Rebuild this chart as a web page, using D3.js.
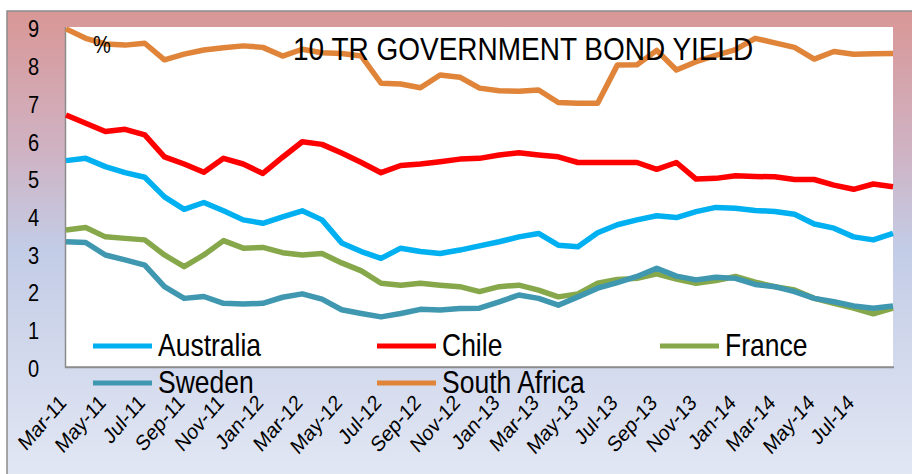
<!DOCTYPE html>
<html>
<head>
<meta charset="utf-8">
<script src="https://cdn.jsdelivr.net/npm/d3@7"></script>
<style>
  html, body { margin: 0; padding: 0; background: #fff; }
  text { font-family: "Liberation Sans", Arial, sans-serif; fill: #000; }
</style>
</head>
<body>
<script>
// monthly categories, Mar-11 .. Sep-14
var months = ["Mar-11","Apr-11","May-11","Jun-11","Jul-11","Aug-11","Sep-11","Oct-11","Nov-11","Dec-11",
  "Jan-12","Feb-12","Mar-12","Apr-12","May-12","Jun-12","Jul-12","Aug-12","Sep-12","Oct-12","Nov-12","Dec-12",
  "Jan-13","Feb-13","Mar-13","Apr-13","May-13","Jun-13","Jul-13","Aug-13","Sep-13","Oct-13","Nov-13","Dec-13",
  "Jan-14","Feb-14","Mar-14","Apr-14","May-14","Jun-14","Jul-14","Aug-14","Sep-14"];

var tickLabels = ["Mar-11","May-11","Jul-11","Sep-11","Nov-11","Jan-12","Mar-12","May-12","Jul-12","Sep-12",
  "Nov-12","Jan-13","Mar-13","May-13","Jul-13","Sep-13","Nov-13","Jan-14","Mar-14","May-14","Jul-14"];

var yTicks = [0,1,2,3,4,5,6,7,8,9];

var australia = [5.46,5.52,5.30,5.14,5.02,4.50,4.17,4.35,4.13,3.89,3.80,3.97,4.13,3.89,3.28,3.05,2.87,3.14,3.05,3.00,
  3.09,3.20,3.31,3.44,3.53,3.22,3.18,3.55,3.76,3.89,4.00,3.95,4.11,4.22,4.20,4.14,4.11,4.04,3.78,3.67,3.44,3.36,3.53];
var chile = [6.67,6.45,6.23,6.29,6.14,5.56,5.37,5.15,5.52,5.37,5.12,5.55,5.96,5.89,5.66,5.41,5.14,5.33,5.37,5.43,
  5.50,5.52,5.61,5.67,5.61,5.56,5.41,5.41,5.41,5.41,5.23,5.41,4.97,4.99,5.06,5.04,5.03,4.96,4.96,4.81,4.70,4.84,4.77];
var france = [3.62,3.69,3.44,3.40,3.36,2.96,2.65,2.96,3.34,3.14,3.16,3.02,2.96,3.00,2.75,2.54,2.21,2.16,2.21,2.16,
  2.12,1.99,2.12,2.16,2.03,1.85,1.93,2.21,2.31,2.34,2.46,2.32,2.21,2.28,2.39,2.24,2.12,2.03,1.81,1.68,1.55,1.40,1.55];
var sweden = [3.31,3.29,2.96,2.83,2.69,2.12,1.81,1.86,1.68,1.66,1.68,1.84,1.93,1.79,1.51,1.41,1.32,1.41,1.52,1.50,
  1.54,1.55,1.72,1.90,1.81,1.63,1.85,2.08,2.23,2.39,2.61,2.40,2.30,2.37,2.34,2.18,2.12,1.99,1.81,1.72,1.61,1.55,1.61];
var southAfrica = [8.95,8.70,8.55,8.52,8.57,8.13,8.28,8.39,8.45,8.50,8.46,8.23,8.41,8.32,8.30,8.23,7.51,7.49,7.39,7.73,
  7.67,7.38,7.31,7.30,7.33,7.00,6.98,6.98,7.99,8.00,8.38,7.86,8.08,8.25,8.40,8.70,8.58,8.46,8.15,8.35,8.28,8.29,8.30];

var seriesNames = ["Australia","Chile","France","Sweden","South Africa"];
var seriesValues = [australia, chile, france, sweden, southAfrica];
var seriesColors = ["#00b0f0","#ff0000","#86a84a","#3f97b0","#df8439"];

var W = 912, H = 474;
var plot = {left: 66, top: 27, right: 893, bottom: 366.7};
var stretch = 1.15; // the original is squashed a bit, text looks tall

var svg = d3.select("body").append("svg")
  .attr("width", W)
  .attr("height", H);

var defs = svg.append("defs");
var grad = defs.append("linearGradient")
  .attr("id", "bg").attr("x1", 0).attr("y1", 0).attr("x2", 0).attr("y2", 1);
grad.append("stop").attr("offset", "0").attr("stop-color", "#d99796");
grad.append("stop").attr("offset", "0.3").attr("stop-color", "#cfb3c4");
grad.append("stop").attr("offset", "0.5").attr("stop-color", "#c3cce6");
grad.append("stop").attr("offset", "1").attr("stop-color", "#e3e8f4");

// chart area
svg.append("rect")
  .attr("x", 7).attr("y", 11)
  .attr("width", W).attr("height", H)
  .attr("fill", "url(#bg)")
  .attr("stroke", "#8c8c8c").attr("stroke-width", 1.5);

// plot area
svg.append("rect")
  .attr("x", plot.left).attr("y", plot.top)
  .attr("width", plot.right - plot.left).attr("height", plot.bottom - plot.top)
  .attr("fill", "#fff");

var x = d3.scalePoint().domain(months).range([plot.left, plot.right]);
var y = d3.scaleLinear().domain([0, 9]).range([plot.bottom, plot.top]);

// axis lines
svg.append("line")
  .attr("x1", plot.left - 0.5).attr("x2", plot.left - 0.5)
  .attr("y1", plot.top).attr("y2", plot.bottom + 1)
  .attr("stroke", "#8c8c8c").attr("stroke-width", 1.5);
svg.append("line")
  .attr("x1", plot.left - 1).attr("x2", plot.right + 1)
  .attr("y1", plot.bottom + 0.5).attr("y2", plot.bottom + 0.5)
  .attr("stroke", "#8c8c8c").attr("stroke-width", 2);

// y tick labels
svg.append("g").selectAll("g")
  .data(yTicks)
  .join("g")
  .attr("transform", function(d) { return "translate(33.5," + (y(d) + 1.5) + ") scale(1,1.22)"; })
  .append("text")
  .attr("text-anchor", "middle")
  .attr("dy", "0.36em")
  .attr("font-size", 20)
  .text(function(d) { return d; });

// x tick labels, rotated
svg.append("g").selectAll("g")
  .data(tickLabels)
  .join("g")
  .attr("transform", function(d) { return "translate(" + (x(d) + 1.5) + ",404) scale(1," + stretch + ") rotate(-45)"; })
  .append("text")
  .attr("text-anchor", "end")
  .attr("font-size", 19)
  .text(function(d) { return d; });

// lines
var line = d3.line()
  .x(function(d, i) { return x(months[i]); })
  .y(function(d) { return y(d); })
  .curve(d3.curveLinear);

svg.append("g").selectAll("path")
  .data(seriesValues)
  .join("path")
  .attr("d", line)
  .attr("fill", "none")
  .attr("stroke", function(d, i) { return seriesColors[i]; })
  .attr("stroke-width", 5.5)
  .attr("stroke-linejoin", "round");

// title and unit
svg.append("g")
  .attr("transform", "translate(293,60) scale(1," + stretch + ")")
  .append("text")
  .attr("font-size", 28)
  .text("10 TR GOVERNMENT BOND YIELD");

svg.append("g")
  .attr("transform", "translate(93,53) scale(1,1.2)")
  .append("text")
  .attr("font-size", 20)
  .text("%");

// legend, 3 per row
var legendX = [93, 377, 660];
var legendY = [346, 383];
var leg = svg.append("g").selectAll("g")
  .data(seriesNames)
  .join("g")
  .attr("transform", function(d, i) { return "translate(" + legendX[i % 3] + "," + legendY[Math.floor(i / 3)] + ")"; });

leg.append("line")
  .attr("x1", 0).attr("x2", 59)
  .attr("y1", 0).attr("y2", 0)
  .attr("stroke", function(d, i) { return seriesColors[i]; })
  .attr("stroke-width", 5);

leg.append("g")
  .attr("transform", "translate(65,10) scale(1," + stretch + ")")
  .append("text")
  .attr("font-size", 26.5)
  .text(function(d) { return d; });
</script>
</body>
</html>
